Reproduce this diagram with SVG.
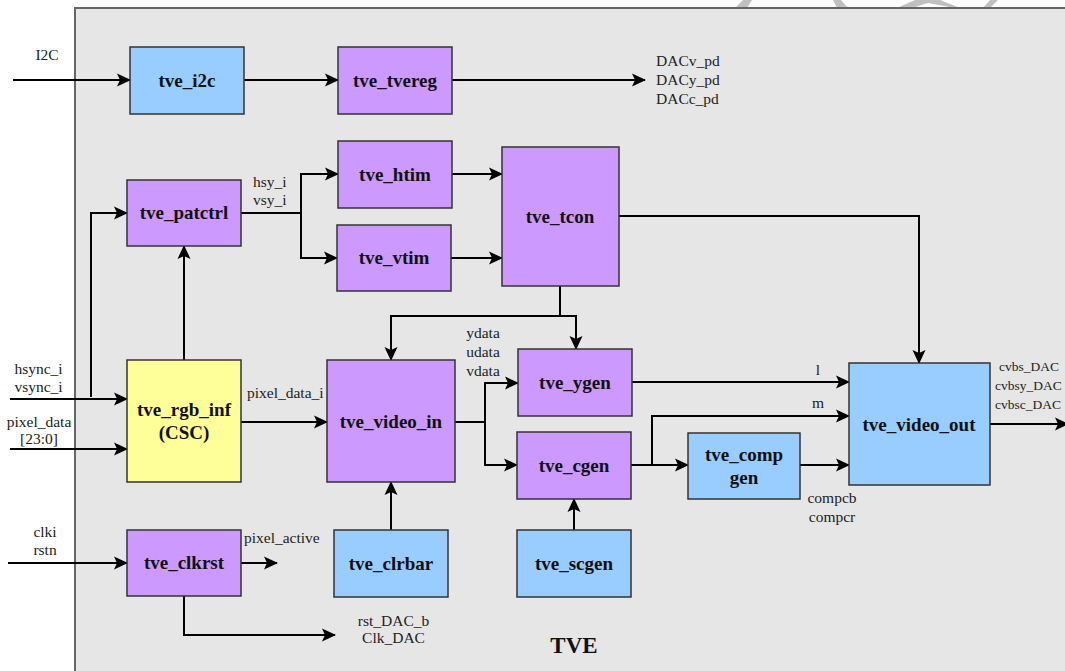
<svg xmlns="http://www.w3.org/2000/svg" width="1065" height="671" viewBox="0 0 1065 671">
<style>
.box{stroke:#333;stroke-width:1.5}
.p{fill:#cc99ff}.b{fill:#99ccff}.y{fill:#ffff99}
.t{font-family:"Liberation Serif","Times New Roman",serif;font-weight:bold;font-size:19px;fill:#111;text-anchor:middle}
.l{font-family:"Liberation Serif","Times New Roman",serif;font-size:15.5px;fill:#222}
.c{text-anchor:middle}
.s{font-size:13.5px}
.w{fill:none;stroke:#000;stroke-width:2}
.a{marker-end:url(#ah)}
</style>
<defs>
<marker id="ah" viewBox="0 0 14 14" refX="13" refY="7" markerWidth="14" markerHeight="14" markerUnits="userSpaceOnUse" orient="auto">
<path d="M0,0.5 L14,7 L0,13.5 L3,7 z" fill="#000"/>
</marker>
</defs>
<rect width="1065" height="671" fill="#fff"/>
<g id="watermark" fill="#c0c0c0">
<polygon points="735,8 747,8 752,0 743,0"/>
<polygon points="837,8 848,8 841,0 833,0"/>
<polygon points="897,8 912,8 928,3 955,8 960,8 940,0 915,0"/>
<polygon points="983,8 990,8 998,0 990,0"/>
</g>
<rect id="frame" x="75" y="8" width="1000" height="680" fill="#e6e6e6" stroke="#666" stroke-width="2"/>
<g id="connectors">
<path class="w a" d="M13,80 H130"/>
<path class="w a" d="M244,80 H338"/>
<path class="w a" d="M452,80 H645"/>
<path class="w a" d="M241,213 H301 V174 H338"/>
<path class="w a" d="M301,213 V258 H337"/>
<path class="w a" d="M452,174 H502"/>
<path class="w a" d="M451,258 H502"/>
<path class="w a" d="M619,216 H919 V363"/>
<path class="w a" d="M560,286 V316 H391 V360"/>
<path class="w a" d="M560,316 H576 V349"/>
<path class="w a" d="M10,399 H127"/>
<path class="w a" d="M91,397 V213 H127"/>
<path class="w a" d="M10,449 H127"/>
<path class="w a" d="M184,360 V246"/>
<path class="w a" d="M241,422 H327"/>
<path class="w a" d="M455,422 H485 V383 H518"/>
<path class="w a" d="M485,422 V465 H517"/>
<path class="w a" d="M632,382 H849"/>
<path class="w a" d="M631,465 H688"/>
<path class="w a" d="M652,465 V416 H849"/>
<path class="w a" d="M800,465 H849"/>
<path class="w a" d="M990,424 H1068"/>
<path class="w a" d="M391,530 V482"/>
<path class="w a" d="M574,530 V499"/>
<path class="w a" d="M8,563 H127"/>
<path class="w a" d="M241,563 H277"/>
<path class="w a" d="M184,596 V635 H335"/>
</g>
<g id="tve_i2c"><rect class="box b" x="130" y="47" width="114" height="67"/><text class="t" x="187" y="87">tve_i2c</text></g>
<g id="tve_tvereg"><rect class="box p" x="338" y="47" width="114" height="67"/><text class="t" x="395" y="87">tve_tvereg</text></g>
<g id="tve_patctrl"><rect class="box p" x="127" y="180" width="114" height="66"/><text class="t" x="184" y="219">tve_patctrl</text></g>
<g id="tve_htim"><rect class="box p" x="338" y="141" width="114" height="67"/><text class="t" x="395" y="181">tve_htim</text></g>
<g id="tve_vtim"><rect class="box p" x="337" y="225" width="114" height="66"/><text class="t" x="394" y="264">tve_vtim</text></g>
<g id="tve_tcon"><rect class="box p" x="502" y="147" width="117" height="139"/><text class="t" x="560" y="223">tve_tcon</text></g>
<g id="tve_rgb_inf"><rect class="box y" x="127" y="360" width="114" height="122"/><text class="t" x="184" y="416">tve_rgb_inf</text><text class="t" x="184" y="439">(CSC)</text></g>
<g id="tve_video_in"><rect class="box p" x="327" y="360" width="128" height="122"/><text class="t" x="391" y="428">tve_video_in</text></g>
<g id="tve_ygen"><rect class="box p" x="518" y="349" width="114" height="67"/><text class="t" x="575" y="389">tve_ygen</text></g>
<g id="tve_cgen"><rect class="box p" x="517" y="432" width="114" height="67"/><text class="t" x="574" y="472">tve_cgen</text></g>
<g id="tve_comp_gen"><rect class="box b" x="688" y="433" width="112" height="66"/><text class="t" x="744" y="461">tve_comp</text><text class="t" x="744" y="484">gen</text></g>
<g id="tve_video_out"><rect class="box b" x="849" y="363" width="141" height="122"/><text class="t" x="919" y="431">tve_video_out</text></g>
<g id="tve_clrbar"><rect class="box b" x="334" y="530" width="114" height="67"/><text class="t" x="391" y="570">tve_clrbar</text></g>
<g id="tve_scgen"><rect class="box b" x="517" y="530" width="114" height="67"/><text class="t" x="574" y="570">tve_scgen</text></g>
<g id="tve_clkrst"><rect class="box p" x="127" y="530" width="114" height="66"/><text class="t" x="184" y="569">tve_clkrst</text></g>
<g id="labels">
<text class="l c" x="47" y="60">I2C</text>
<text class="l" x="656" y="66">DACv_pd</text>
<text class="l" x="656" y="85">DACy_pd</text>
<text class="l" x="656" y="104">DACc_pd</text>
<text class="l" x="253" y="187">hsy_i</text>
<text class="l" x="253" y="205">vsy_i</text>
<text class="l c" x="38.5" y="374">hsync_i</text>
<text class="l c" x="38.5" y="392">vsync_i</text>
<text class="l c" x="39" y="427">pixel_data</text>
<text class="l c" x="39" y="444">[23:0]</text>
<text class="l" x="247" y="398">pixel_data_i</text>
<text class="l c" x="483" y="338">ydata</text>
<text class="l c" x="483" y="357">udata</text>
<text class="l c" x="483" y="376">vdata</text>
<text class="l c" x="818" y="375">l</text>
<text class="l c" x="818" y="408">m</text>
<text class="l s" x="999" y="371">cvbs_DAC</text>
<text class="l s" x="995" y="390">cvbsy_DAC</text>
<text class="l s" x="995" y="409">cvbsc_DAC</text>
<text class="l c" x="832" y="503">compcb</text>
<text class="l c" x="832" y="522">compcr</text>
<text class="l c" x="45" y="537">clki</text>
<text class="l c" x="45" y="555">rstn</text>
<text class="l" x="244" y="543">pixel_active</text>
<text class="l c" x="393.5" y="626">rst_DAC_b</text>
<text class="l c" x="393.5" y="643">Clk_DAC</text>
<text class="t" x="574" y="653" style="font-size:23px">TVE</text>
</g>
</svg>
